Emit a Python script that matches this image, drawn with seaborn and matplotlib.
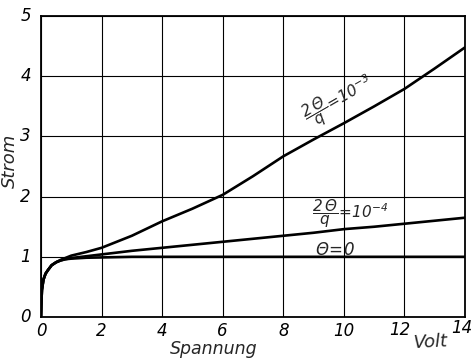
import numpy as np
import pandas as pd
import matplotlib
matplotlib.use("Agg")
import matplotlib.pyplot as plt
import seaborn as sns

# Spannung (Volt) and Strom for the three cases
volt_sat = [0, 0.01, 0.03, 0.08, 0.15, 0.23, 0.35, 0.5, 0.65, 0.8, 1.0, 1.5, 2, 3, 4, 6, 8, 10, 12, 14]
strom_0 = [0, 0.2, 0.45, 0.62, 0.72, 0.78, 0.86, 0.91, 0.94, 0.96, 0.97, 0.985, 0.99, 1.0, 1.0, 1.0, 1.0, 1.0, 1.0, 1.0]

volt_b = [0, 0.01, 0.03, 0.08, 0.15, 0.23, 0.35, 0.5, 0.65, 0.8, 1.0, 1.5, 2, 3, 4, 5, 6, 7, 8, 9, 10, 11, 12, 13, 14]
strom_4 = [0, 0.2, 0.45, 0.62, 0.72, 0.78, 0.86, 0.91, 0.94, 0.96, 0.98, 1.01, 1.04, 1.10, 1.15, 1.20, 1.25, 1.30, 1.35, 1.40, 1.46, 1.50, 1.55, 1.60, 1.65]
strom_3 = [0, 0.2, 0.45, 0.62, 0.72, 0.78, 0.86, 0.91, 0.95, 0.98, 1.02, 1.08, 1.15, 1.35, 1.59, 1.80, 2.03, 2.34, 2.67, 2.95, 3.22, 3.50, 3.79, 4.13, 4.48]

x_ticks = [0, 2, 4, 6, 8, 10, 12, 14]
y_ticks = [0, 1, 2, 3, 4, 5]

sns.set_theme(style="white")
plt.rcParams["font.family"] = ["DejaVu Sans"]
plt.rcParams["mathtext.fontset"] = "custom"
plt.rcParams["mathtext.it"] = "DejaVu Sans:italic"
plt.rcParams["mathtext.rm"] = "DejaVu Sans:italic"
plt.rcParams["mathtext.sf"] = "DejaVu Sans:italic"
plt.rcParams["mathtext.default"] = "it"

fig = plt.figure(figsize=(4.74, 3.58), dpi=100)
ax = fig.add_axes([0.0865, 0.1145, 0.8945, 0.8405])

df = pd.concat([
    pd.DataFrame({"Spannung": volt_sat, "Strom": strom_0, "Fall": "0"}),
    pd.DataFrame({"Spannung": volt_b, "Strom": strom_4, "Fall": "1e-4"}),
    pd.DataFrame({"Spannung": volt_b, "Strom": strom_3, "Fall": "1e-3"}),
])
sns.lineplot(data=df, x="Spannung", y="Strom", hue="Fall",
             palette=["black", "black", "black"], linewidth=1.9,
             legend=False, sort=False, estimator=None, ax=ax)

ax.set_xlim(0, 14)
ax.set_ylim(0, 5)
ax.set_xticks(x_ticks)
ax.set_yticks(y_ticks)
ax.grid(True, color="black", linewidth=0.8)
for s in ax.spines.values():
    s.set_color("black")
    s.set_linewidth(1.3)
ax.tick_params(length=0)
ax.set_xticklabels([])
ax.set_yticklabels([])
ax.set_xlabel("")
ax.set_ylabel("")

tick_font = dict(fontsize=12, style="italic", color="black")
for v in x_ticks:
    if v == 14:
        ax.text(v - 0.1, -0.04, str(v), ha="center", va="top", **tick_font)
    elif v == 12:
        ax.text(v - 0.15, -0.07, str(v), ha="center", va="top", **tick_font)
    else:
        ax.text(v, -0.08, str(v), ha="center", va="top", **tick_font)
for v in y_ticks:
    ax.text(-0.33, v, str(v), ha="right", va="center", **tick_font)

ax.text(5.7, -0.38, "Spannung", ha="center", va="top", fontsize=12.5, style="italic")
ax.text(-0.72, 2.6, "Strom", ha="right", va="center", rotation=90, fontsize=13, style="italic")
ax.text(12.85, -0.25, "Volt", ha="center", va="top", fontsize=13, style="italic", rotation=3)

ax.text(9.85, 3.6, r"$\dfrac{2\,\Theta}{q}\!=\!10^{-3}$", ha="center", va="center",
        rotation=30, fontsize=11)
ax.text(10.2, 1.72, r"$\dfrac{2\,\Theta}{q}\!=\!10^{-4}$", ha="center", va="center",
        fontsize=11)
ax.text(9.7, 1.12, r"$\Theta\!=\!0$", ha="center", va="center", fontsize=12)

fig.savefig("out.png", dpi=100)
